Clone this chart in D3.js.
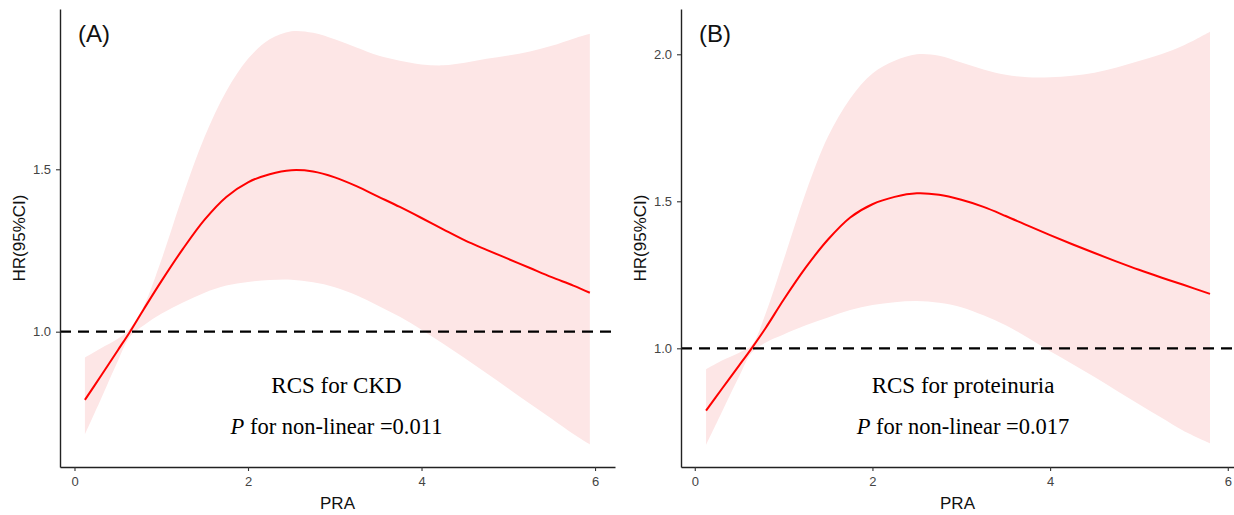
<!DOCTYPE html>
<html><head><meta charset="utf-8">
<script src="https://cdn.jsdelivr.net/npm/d3@7"></script>
<style>body{margin:0;background:#fff}svg{display:block}</style>
</head><body>
<svg id="c" width="1234" height="515"></svg>
<script>
// ---- Data ----
const xA = [0.12,0.3,0.5,0.64,0.8,1.0,1.25,1.5,1.75,2.0,2.25,2.5,2.75,3.0,3.25,3.5,3.75,4.0,4.25,4.5,4.75,5.0,5.25,5.5,5.75,5.94];
const hrA = [0.79,0.862,0.943,1.0,1.07,1.155,1.255,1.345,1.415,1.46,1.485,1.497,1.493,1.475,1.448,1.416,1.384,1.35,1.315,1.281,1.252,1.224,1.196,1.168,1.142,1.12];
const upA = [0.92,0.948,0.978,1.01,1.08,1.22,1.42,1.60,1.74,1.84,1.90,1.925,1.92,1.90,1.875,1.85,1.834,1.823,1.82,1.828,1.84,1.85,1.863,1.88,1.902,1.917];
const loA = [0.684,0.79,0.91,0.985,1.02,1.055,1.09,1.12,1.142,1.153,1.159,1.16,1.152,1.137,1.112,1.08,1.046,1.006,0.963,0.918,0.872,0.825,0.778,0.732,0.685,0.653];

const xB = [0.127,0.3,0.5,0.64,0.8,1.0,1.25,1.5,1.75,2.0,2.25,2.5,2.75,3.0,3.25,3.5,3.75,4.0,4.25,4.5,4.75,5.0,5.25,5.5,5.8];
const hrB = [0.788,0.86,0.942,1.0,1.07,1.165,1.275,1.37,1.445,1.49,1.515,1.527,1.522,1.505,1.481,1.45,1.417,1.385,1.354,1.324,1.295,1.267,1.241,1.216,1.185];
const upB = [0.929,0.958,0.985,1.01,1.12,1.30,1.53,1.72,1.85,1.935,1.978,2.0,1.995,1.972,1.948,1.93,1.922,1.922,1.927,1.937,1.955,1.977,2.0,2.03,2.077];
const loB = [0.671,0.78,0.905,0.985,1.02,1.047,1.078,1.105,1.13,1.147,1.157,1.161,1.155,1.14,1.112,1.078,1.036,0.99,0.947,0.902,0.856,0.81,0.765,0.72,0.677];

const xTicks = [0,2,4,6];
const yTicksA = [1.0,1.5];
const yTicksB = [1.0,1.5,2.0];
const refHR = 1.0;
const panelLabels = ["(A)","(B)"];
const titles = ["RCS for CKD","RCS for proteinuria"];
const pvals = ["0.011","0.017"];
const xTitle = "PRA";
const yTitle = "HR(95%CI)";

const panels = [
  {x:xA,hr:hrA,up:upA,lo:loA,yt:yTicksA,xd:[-0.167,6.23],xr:[60,615],yd:[0.5834,1.9935],label:panelLabels[0],title:titles[0],p:pvals[0]},
  {x:xB,hr:hrB,up:upB,lo:loB,yt:yTicksB,xd:[-0.155,6.07],xr:[681,1234],yd:[0.5963,2.154],label:panelLabels[1],title:titles[1],p:pvals[1]}
];

const svg = d3.select("#c");
const plotTop = 9, plotBottom = 467;
const sans = "'Liberation Sans', Arial, sans-serif";
const serif = "'Liberation Serif', 'Times New Roman', serif";
const curve = d3.curveCatmullRom.alpha(0.5);

panels.forEach(P => {
  const x = d3.scaleLinear().domain(P.xd).range(P.xr);
  const y = d3.scaleLinear().domain(P.yd).range([plotBottom, plotTop]);
  const g = svg.append("g");
  const pts = P.x.map((v,i)=>({x:v,hr:P.hr[i],up:P.up[i],lo:P.lo[i]}));

  g.append("path").datum(pts)
    .attr("fill","#fde6e6").attr("stroke","none")
    .attr("d", d3.area().curve(curve).x(d=>x(d.x)).y0(d=>y(d.lo)).y1(d=>y(d.up)));

  g.append("line")
    .attr("x1",P.xr[0]).attr("x2",P.xr[1]).attr("y1",y(refHR)).attr("y2",y(refHR))
    .attr("stroke","#000").attr("stroke-width",2.2).attr("stroke-dasharray","11,7");

  g.append("path").datum(pts)
    .attr("fill","none").attr("stroke","#ff0000").attr("stroke-width",2)
    .attr("d", d3.line().curve(curve).x(d=>x(d.x)).y(d=>y(d.hr)));

  const xa = g.append("g").attr("transform",`translate(0,${plotBottom})`)
    .call(d3.axisBottom(x).tickValues(xTicks).tickSize(4).tickSizeOuter(0).tickFormat(d3.format("d")));
  const ya = g.append("g").attr("transform",`translate(${P.xr[0]},0)`)
    .call(d3.axisLeft(y).tickValues(P.yt).tickSize(4).tickPadding(5).tickSizeOuter(0).tickFormat(d3.format(".1f")));
  [xa,ya].forEach(a=>{
    a.select(".domain").attr("stroke","#222").attr("stroke-width",1.4);
    a.selectAll(".tick line").attr("stroke","#333").attr("stroke-width",1.1);
    a.selectAll(".tick text").attr("fill","#444").style("font-family",sans).style("font-size","13px");
  });
  xa.selectAll(".tick text").attr("dy","0.95em");

  g.append("text").attr("x",(P.xr[0]+P.xr[1])/2).attr("y",509)
    .attr("text-anchor","middle").style("font-family",sans).style("font-size","17px").attr("fill","#111").text(xTitle);
  g.append("text").attr("transform",`translate(${P.xr[0]-35},238) rotate(-90)`)
    .attr("text-anchor","middle").style("font-family",sans).style("font-size","17px").attr("fill","#111").text(yTitle);

  g.append("text").attr("x",P.xr[0]+18).attr("y",42)
    .style("font-family",sans).style("font-size","24px").attr("fill","#111").text(P.label);

  const cx = x(3.02);
  g.append("text").attr("x",cx).attr("y",393).attr("text-anchor","middle")
    .style("font-family",serif).style("font-size","23px").attr("fill","#000").text(P.title);
  const t = g.append("text").attr("x",cx).attr("y",434).attr("text-anchor","middle")
    .style("font-family",serif).style("font-size","22.5px").attr("fill","#000");
  t.append("tspan").style("font-style","italic").text("P");
  t.append("tspan").text(" for non-linear =" + P.p);
});
</script>
</body></html>
